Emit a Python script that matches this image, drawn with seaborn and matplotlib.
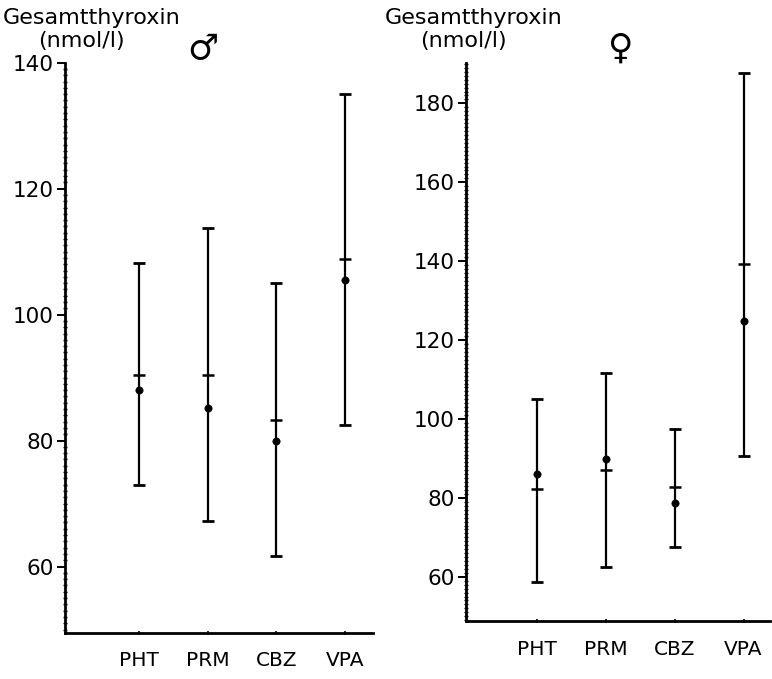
import numpy as np
import pandas as pd
import matplotlib
matplotlib.use("Agg")
import matplotlib.pyplot as plt
import seaborn as sns
from matplotlib.ticker import MultipleLocator

# Total thyroxine (nmol/l) by antiepileptic drug
drugs = ["PHT", "PRM", "CBZ", "VPA"]

male_low = [73.0, 67.3, 61.7, 82.4]
male_high = [108.2, 113.7, 105.0, 135.1]
male_bar = [90.4, 90.4, 83.2, 108.8]
male_dot = [88.1, 85.1, 80.0, 105.5]

female_low = [58.7, 62.4, 67.6, 90.6]
female_high = [105.0, 111.7, 97.5, 187.8]
female_bar = [82.2, 87.2, 82.7, 139.3]
female_dot = [86.0, 89.8, 78.8, 124.8]

sns.set_style("ticks")
plt.rcParams["font.family"] = ["DejaVu Sans"]
plt.rcParams["text.color"] = "black"
plt.rcParams["xtick.color"] = "black"
plt.rcParams["ytick.color"] = "black"

fig = plt.figure(figsize=(7.72, 6.79), dpi=100)
ax_m = fig.add_axes([0.0842, 0.0682, 0.483 - 0.0842, 0.9077 - 0.0682])
ax_f = fig.add_axes([0.6036, 0.0854, 0.997 - 0.6036, 0.907 - 0.0854])


def panel(ax, low, high, bar, dot, ylim, xlim):
    df = pd.DataFrame({"pos": np.arange(len(drugs)), "drug": drugs,
                       "low": low, "high": high, "bar": bar, "dot": dot})
    ax.errorbar(df["pos"], df["bar"],
                yerr=[df["bar"] - df["low"], df["high"] - df["bar"]],
                fmt="none", ecolor="black", elinewidth=1.6,
                capsize=4.6, capthick=2.0, zorder=2)
    sns.scatterplot(data=df, x="pos", y="bar", marker="_", s=80,
                    color="black", linewidth=1.8, ax=ax, zorder=3)
    sns.scatterplot(data=df, x="pos", y="dot", marker="o", s=28,
                    color="black", edgecolor="black", ax=ax, zorder=4)
    ax.set_xlim(*xlim)
    ax.set_ylim(*ylim)
    ax.set_xlabel("")
    ax.set_ylabel("")
    ax.set_xticks(df["pos"])
    ax.set_xticklabels(drugs)
    ax.yaxis.set_major_locator(MultipleLocator(20))
    ax.yaxis.set_minor_locator(MultipleLocator(1))
    ax.tick_params(axis="y", which="major", length=6, width=1.4,
                   direction="out", labelsize=15.5, pad=2,
                   labelcolor="black")
    ax.tick_params(axis="y", which="minor", length=3, width=1.0,
                   direction="inout")
    ax.tick_params(axis="x", which="major", length=3, width=1.2,
                   direction="inout", labelsize=14.5, pad=12,
                   labelcolor="black")
    for side in ("top", "right"):
        ax.spines[side].set_visible(False)
    for side in ("left", "bottom"):
        ax.spines[side].set_linewidth(2.0)
        ax.spines[side].set_color("black")


panel(ax_m, male_low, male_high, male_bar, male_dot,
      ylim=(49.5, 140), xlim=(-1.08, 3.41))
panel(ax_f, female_low, female_high, female_bar, female_dot,
      ylim=(48.8, 190.2), xlim=(-1.03, 3.38))

# Axis titles and sex symbols
fig.text(0.004, 0.974, "Gesamtthyroxin", fontsize=16, ha="left", va="center")
fig.text(0.050, 0.939, "(nmol/l)", fontsize=16, ha="left", va="center")
fig.text(0.263, 0.928, "\u2642", fontsize=25, ha="center", va="center")

fig.text(0.499, 0.974, "Gesamtthyroxin", fontsize=16, ha="left", va="center")
fig.text(0.544, 0.939, "(nmol/l)", fontsize=16, ha="left", va="center")
fig.text(0.803, 0.928, "\u2640", fontsize=25, ha="center", va="center")

fig.savefig("out.png", dpi=100, facecolor="white")
